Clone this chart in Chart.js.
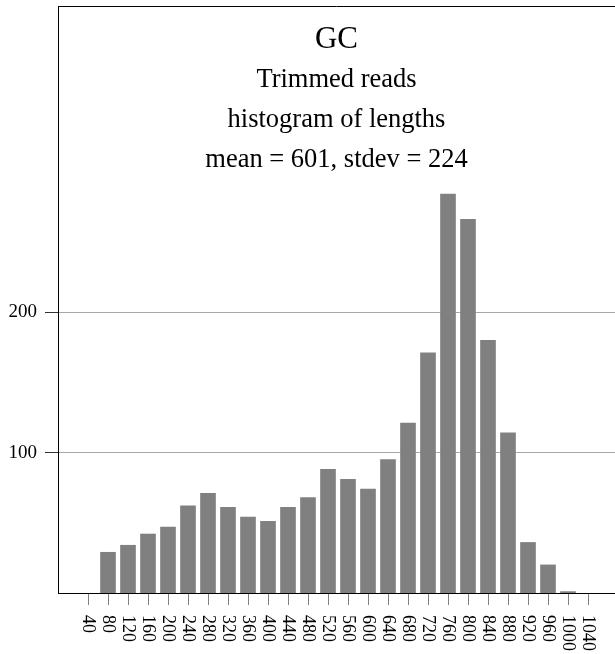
<!DOCTYPE html>
<html>
<head>
<meta charset="utf-8">
<script src="https://cdn.jsdelivr.net/npm/chart.js@4"></script>
<style>
  html, body { margin: 0; padding: 0; background: #fff; }
  #wrap { width: 615px; height: 654px; }
</style>
</head>
<body>
<div id="wrap"><canvas id="histChart" width="615" height="654"></canvas></div>
<script>
// bins (read length) and counts
const binStarts = [40, 80, 120, 160, 200, 240, 280, 320, 360, 400, 440, 480, 520,
  560, 600, 640, 680, 720, 760, 800, 840, 880, 920, 960, 1000, 1040];
const readCounts = [0, 29, 34, 42, 47, 62, 71, 61, 54, 51, 61, 68, 88,
  81, 74, 95, 121, 171, 284, 266, 180, 114, 36, 20, 1, 0];
const xTickValues = binStarts;
const yTickValues = [100, 200];
const titleLines = ["GC", "Trimmed reads", "histogram of lengths", "mean = 601, stdev = 224"];

const SERIF = "'Liberation Serif', 'Times New Roman', serif";

// titles are drawn inside the plot frame, like the original
const innerTitle = {
  id: "innerTitle",
  afterDraw(chart) {
    const { ctx, chartArea } = chart;
    const cx = (chartArea.left + chartArea.right) / 2;
    const baselines = [48, 87, 127, 167];
    ctx.save();
    ctx.fillStyle = "#000";
    ctx.textAlign = "center";
    ctx.textBaseline = "alphabetic";
    titleLines.forEach((t, i) => {
      ctx.font = (i === 0 ? "31px " : "26.5px ") + SERIF;
      ctx.fillText(t, cx, baselines[i]);
    });
    ctx.restore();
  },
};

// x labels read top-to-bottom (rotated clockwise), which Chart.js can't do natively
const rotatedXLabels = {
  id: "rotatedXLabels",
  afterDraw(chart) {
    const { ctx } = chart;
    const xs = chart.scales.x;
    ctx.save();
    ctx.fillStyle = "#000";
    ctx.font = "18px " + SERIF;
    ctx.textAlign = "left";
    ctx.textBaseline = "middle";
    xs.ticks.forEach((tk) => {
      const px = xs.getPixelForValue(tk.value);
      ctx.save();
      ctx.translate(px, xs.top + 22);
      ctx.rotate(Math.PI / 2);
      ctx.fillText(String(tk.value), 0, 0);
      ctx.restore();
    });
    ctx.restore();
  },
};

// top edge of the frame
const frameTop = {
  id: "frameTop",
  beforeDatasetsDraw(chart) {
    const { ctx, chartArea } = chart;
    ctx.save();
    ctx.strokeStyle = "#000";
    ctx.lineWidth = 1;
    ctx.beginPath();
    ctx.moveTo(chartArea.left, chartArea.top + 0.5);
    ctx.lineTo(chartArea.right, chartArea.top + 0.5);
    ctx.stroke();
    ctx.restore();
  },
};

new Chart(document.getElementById("histChart").getContext("2d"), {
  type: "bar",
  data: {
    datasets: [
      {
        // empty bins are left out so no zero-height sliver is drawn
        data: binStarts.map((b, i) => ({ x: b, y: readCounts[i] || null })),
        backgroundColor: "#808080",
        borderWidth: 0,
        barThickness: 15,
      },
    ],
  },
  options: {
    responsive: false,
    animation: false,
    layout: { padding: { top: 6, right: 0, bottom: 0, left: 0 } },
    plugins: {
      legend: { display: false },
      tooltip: { enabled: false },
      title: { display: false },
    },
    scales: {
      x: {
        type: "linear",
        offset: false,
        min: -20,
        max: 1094,
        afterBuildTicks: (s) => { s.ticks = xTickValues.map((v) => ({ value: v })); },
        afterFit: (s) => { s.height = 61; s.paddingLeft = 0; s.paddingRight = 0; },
        grid: {
          offset: false,
          drawOnChartArea: false,
          drawTicks: true,
          tickLength: 12,
          tickColor: "#808080",
        },
        border: { display: true, color: "#000", width: 1 },
        ticks: { display: false },
      },
      y: {
        min: 0,
        max: 418,
        afterBuildTicks: (s) => { s.ticks = yTickValues.map((v) => ({ value: v })); },
        afterFit: (s) => { s.width = 58; s.paddingTop = 0; s.paddingBottom = 0; },
        grid: {
          color: "#a8a8a8",
          lineWidth: 1,
          drawTicks: true,
          tickLength: 13,
          tickColor: "#333",
        },
        border: { display: true, color: "#000", width: 1 },
        ticks: {
          color: "#000",
          padding: 8,
          font: { family: SERIF, size: 19 },
        },
      },
    },
  },
  plugins: [frameTop, innerTitle, rotatedXLabels],
});
</script>
</body>
</html>
